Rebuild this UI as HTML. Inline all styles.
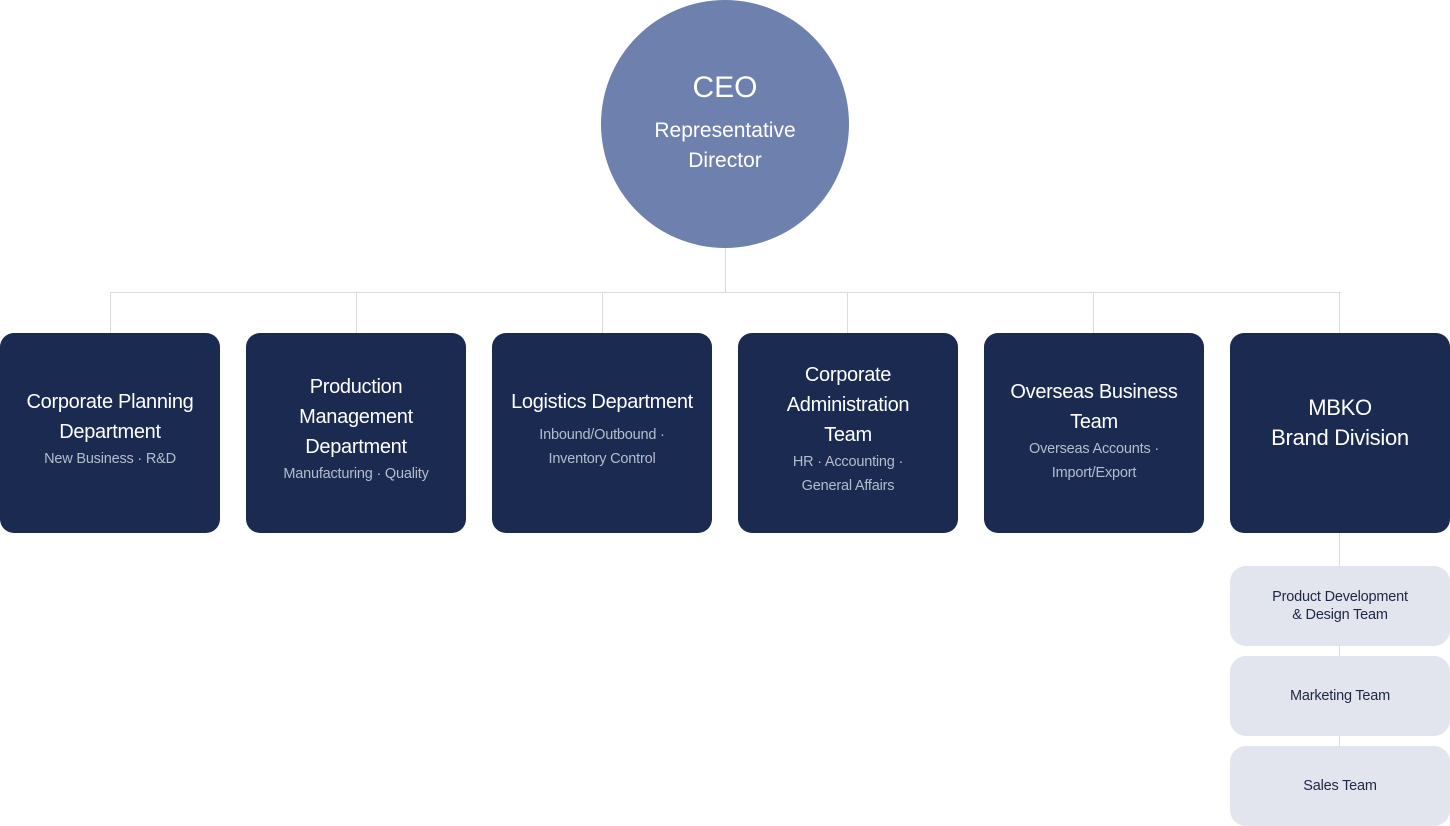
<!DOCTYPE html>
<html><head><meta charset="utf-8"><style>
body{margin:0;width:1450px;height:825px;background:#fff;position:relative;overflow:hidden;font-family:"Liberation Sans",sans-serif;}
.l{position:absolute;background:#d9dbe0}
.b{position:absolute;top:333px;width:220px;height:200px;box-sizing:border-box;padding-bottom:8px;background:#1a2a50;border-radius:14px;color:#fff;display:flex;flex-direction:column;justify-content:center;align-items:center;text-align:center}
.t{font-size:20px;line-height:30px;letter-spacing:-0.3px}
.s{font-size:14.5px;line-height:24px;color:#b4bccd;margin-top:0px;letter-spacing:-0.2px}
.sb{position:absolute;left:1230px;width:220px;height:80px;background:#e2e5ed;border-radius:16px;color:#1e2846;font-size:14.5px;line-height:18px;display:flex;align-items:center;justify-content:center;text-align:center;letter-spacing:-0.2px}
</style></head><body>
<div style="position:absolute;left:601px;top:0;width:248px;height:248px;border-radius:50%;background:#6e80ae;color:#fff;text-align:center">
<div style="margin-top:70px;font-size:30px;line-height:36px">CEO</div>
<div style="font-size:21px;line-height:30px;margin-top:10px">Representative<br>Director</div>
</div>
<div class="l" style="left:725px;top:248px;width:1px;height:44px"></div>
<div class="l" style="left:110px;top:292px;width:1231px;height:1px"></div>
<div class="l" style="left:110px;top:292px;width:1px;height:41px"></div>
<div class="l" style="left:356px;top:292px;width:1px;height:41px"></div>
<div class="l" style="left:602px;top:292px;width:1px;height:41px"></div>
<div class="l" style="left:847px;top:292px;width:1px;height:41px"></div>
<div class="l" style="left:1093px;top:292px;width:1px;height:41px"></div>
<div class="l" style="left:1339px;top:292px;width:1px;height:41px"></div>
<div class="l" style="left:1339px;top:533px;width:1px;height:250px"></div>
<div class="b" style="left:0"><div class="t">Corporate Planning<br>Department</div><div class="s">New Business · R&amp;D</div></div>
<div class="b" style="left:246px"><div class="t">Production<br>Management<br>Department</div><div class="s">Manufacturing · Quality</div></div>
<div class="b" style="left:492px"><div class="t">Logistics Department</div><div class="s" style="margin-top:6px">Inbound/Outbound ·<br>Inventory Control</div></div>
<div class="b" style="left:738px"><div class="t">Corporate<br>Administration<br>Team</div><div class="s">HR · Accounting ·<br>General Affairs</div></div>
<div class="b" style="left:984px;padding-bottom:4px"><div class="t">Overseas Business<br>Team</div><div class="s">Overseas Accounts ·<br>Import/Export</div></div>
<div class="b" style="left:1230px;padding-bottom:20px"><div class="t" style="font-size:22px">MBKO<br>Brand Division</div></div>
<div class="sb" style="top:566px">Product Development<br>&amp; Design Team</div>
<div class="sb" style="top:656px">Marketing Team</div>
<div class="sb" style="top:746px">Sales Team</div>
</body></html>
